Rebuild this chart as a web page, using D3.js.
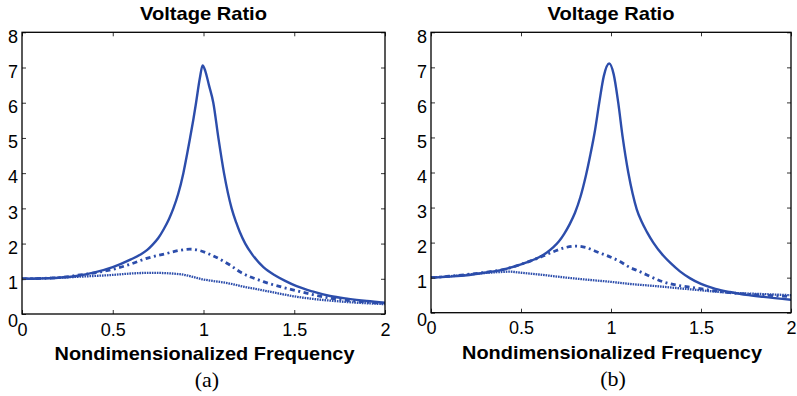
<!DOCTYPE html>
<html>
<head>
<meta charset="utf-8">
<script src="https://cdn.jsdelivr.net/npm/d3@7"></script>
<style>
  html, body { margin: 0; padding: 0; background: #fff; }
  svg { display: block; }
</style>
</head>
<body>
<svg id="chart" width="797" height="396"></svg>
<script>
// ---------- data ----------
const xTicks = [0, 0.5, 1, 1.5, 2];
const yTicks = [0, 1, 2, 3, 4, 5, 6, 7, 8];
const titleText = "Voltage Ratio";
const xLabelText = "Nondimensionalized Frequency";
const panelTags = ["(a)", "(b)"];

// panel (a)
const aSolidX = [0, 0.1, 0.2, 0.3, 0.4, 0.5, 0.6, 0.65, 0.69, 0.72, 0.75, 0.78, 0.81, 0.834, 0.86, 0.889, 0.91, 0.926, 0.945, 0.959, 0.98, 0.995, 1.01, 1.03, 1.054, 1.082, 1.113, 1.155, 1.18, 1.2, 1.23, 1.27, 1.33, 1.4, 1.45, 1.513, 1.6, 1.697, 1.8, 1.9, 2.0];
const aSolidY = [1.0, 1.01, 1.03, 1.08, 1.18, 1.33, 1.55, 1.68, 1.82, 1.97, 2.15, 2.40, 2.70, 3.0, 3.4, 4.0, 4.55, 5.0, 5.55, 6.0, 6.7, 7.06, 6.9, 6.5, 6.0, 5.0, 4.0, 3.0, 2.6, 2.33, 2.0, 1.68, 1.33, 1.08, 0.94, 0.79, 0.64, 0.51, 0.43, 0.37, 0.32];
const aDashDotX = [0, 0.1, 0.2, 0.32, 0.4, 0.5, 0.6, 0.687, 0.797, 0.87, 0.926, 0.98, 1.054, 1.146, 1.2, 1.33, 1.513, 1.697, 1.85, 2.0];
const aDashDotY = [1.0, 1.01, 1.03, 1.11, 1.17, 1.27, 1.42, 1.58, 1.72, 1.81, 1.84, 1.80, 1.65, 1.39, 1.2, 0.92, 0.66, 0.45, 0.36, 0.30];
const aDotX = [0, 0.2, 0.32, 0.5, 0.6, 0.714, 0.87, 1.0, 1.15, 1.2, 1.33, 1.513, 1.697, 1.85, 2.0];
const aDotY = [1.0, 1.03, 1.06, 1.11, 1.15, 1.17, 1.13, 0.98, 0.86, 0.80, 0.67, 0.49, 0.38, 0.32, 0.28];

// panel (b)
const bSolidX = [0, 0.1, 0.2, 0.272, 0.4, 0.5, 0.6, 0.644, 0.68, 0.71, 0.74, 0.77, 0.8, 0.83, 0.86, 0.885, 0.911, 0.935, 0.96, 0.99, 1.015, 1.04, 1.065, 1.096, 1.12, 1.143, 1.17, 1.2, 1.235, 1.29, 1.33, 1.383, 1.44, 1.5, 1.58, 1.66, 1.75, 1.846, 2.0];
const bSolidY = [1.0, 1.03, 1.07, 1.12, 1.23, 1.38, 1.58, 1.72, 1.87, 2.03, 2.25, 2.52, 2.85, 3.3, 3.9, 4.5, 5.2, 6.0, 6.75, 7.11, 6.8, 6.0, 5.0, 4.0, 3.4, 2.95, 2.6, 2.3, 2.0, 1.63, 1.42, 1.18, 0.98, 0.82, 0.68, 0.59, 0.51, 0.45, 0.37];
const bDashDotX = [0, 0.1, 0.2, 0.3, 0.4, 0.5, 0.6, 0.68, 0.74, 0.8, 0.86, 0.92, 1.05, 1.105, 1.143, 1.29, 1.476, 1.66, 1.85, 2.0];
const bDashDotY = [1.0, 1.04, 1.09, 1.15, 1.23, 1.38, 1.57, 1.74, 1.85, 1.90, 1.86, 1.74, 1.46, 1.29, 1.21, 0.88, 0.70, 0.57, 0.50, 0.46];
const bDotX = [0, 0.1, 0.2, 0.272, 0.35, 0.44, 0.5, 0.6, 0.735, 0.85, 1.0, 1.105, 1.2, 1.29, 1.476, 1.66, 1.85, 2.0];
const bDotY = [1.0, 1.04, 1.08, 1.12, 1.15, 1.17, 1.14, 1.09, 1.01, 0.95, 0.88, 0.82, 0.78, 0.74, 0.65, 0.57, 0.53, 0.50];

// ---------- drawing ----------
const zip = (xs, ys) => xs.map((x, i) => [x, ys[i]]);
const blue = "#2c4dab";
const sans = "'Liberation Sans', Arial, Helvetica, sans-serif";
const serif = "'Liberation Serif', 'Times New Roman', serif";

const panels = [
  { left: 22, right: 385, top: 32.3, bottom: 314, tag: panelTags[0], tagX: 207,
    series: [
      { d: zip(aSolidX, aSolidY), style: "solid" },
      { d: zip(aDashDotX, aDashDotY), style: "dashdot" },
      { d: zip(aDotX, aDotY), style: "dot" }
    ] },
  { left: 431, right: 791, top: 32.3, bottom: 312.7, tag: panelTags[1], tagX: 613,
    series: [
      { d: zip(bSolidX, bSolidY), style: "solid" },
      { d: zip(bDashDotX, bDashDotY), style: "dashdot" },
      { d: zip(bDotX, bDotY), style: "dot" }
    ] }
];

const svg = d3.select("#chart");
svg.append("rect").attr("width", 797).attr("height", 396).attr("fill", "#fff");

panels.forEach(p => {
  const x = d3.scaleLinear().domain([0, 2]).range([p.left, p.right]);
  const y = d3.scaleLinear().domain([0, 8]).range([p.bottom, p.top]);
  const g = svg.append("g");

  // lines
  const line = d3.line().x(d => x(d[0])).y(d => y(d[1])).curve(d3.curveMonotoneX);
  p.series.forEach(s => {
    const path = g.append("path").datum(s.d).attr("d", line)
      .attr("fill", "none").attr("stroke", blue);
    if (s.style === "solid") path.attr("stroke-width", 2.4);
    if (s.style === "dashdot") path.attr("stroke-width", 2.8).attr("stroke-dasharray", "5,3.5,2,3.5");
    if (s.style === "dot") path.attr("stroke-width", 2.3).attr("stroke-dasharray", "1.6,0.9");
  });

  // axes with inward ticks
  const axB = d3.axisBottom(x).tickValues(xTicks).tickSize(-4).tickPadding(9).tickFormat(d3.format("~g"));
  const axT = d3.axisTop(x).tickValues(xTicks).tickSize(-4).tickFormat("");
  const axL = d3.axisLeft(y).tickValues(yTicks).tickSize(-4).tickPadding(4).tickFormat(d3.format("~g"));
  const axR = d3.axisRight(y).tickValues(yTicks).tickSize(-4).tickFormat("");

  const gb = g.append("g").attr("transform", `translate(0,${p.bottom})`).call(axB);
  const gt = g.append("g").attr("transform", `translate(0,${p.top})`).call(axT);
  const gl = g.append("g").attr("transform", `translate(${p.left},0)`).call(axL);
  const gr = g.append("g").attr("transform", `translate(${p.right},0)`).call(axR);
  [gb, gt, gl, gr].forEach(a => {
    a.attr("font-family", null).attr("font-size", null);
    a.select(".domain").remove();
    a.selectAll(".tick line").attr("stroke", "#333").attr("stroke-width", 1);
    a.selectAll("text").style("font-family", sans)
      .style("font-size", "18px").attr("fill", "#000");
  });
  gl.selectAll("text").attr("dy", "0.65em").attr("y", 0)
    .attr("transform", "translate(0,-2)");
  gl.selectAll(".tick").filter(d => d === 0).select("text").attr("transform", "translate(0,1)");

  // box
  g.append("rect").attr("x", p.left).attr("y", p.top)
    .attr("width", p.right - p.left).attr("height", p.bottom - p.top)
    .attr("fill", "none").attr("stroke", "#000").attr("stroke-width", 1.3);

  const cx = (p.left + p.right) / 2;
  // title
  g.append("text").attr("x", cx).attr("y", 20).attr("text-anchor", "middle")
    .style("font-family", sans).attr("font-weight", "bold")
    .style("font-size", "18.5px").attr("textLength", 127).attr("lengthAdjust", "spacingAndGlyphs")
    .text(titleText);
  // x label
  g.append("text").attr("x", cx + 1).attr("y", p.bottom + 46).attr("text-anchor", "middle")
    .style("font-family", sans).attr("font-weight", "bold")
    .style("font-size", "19px").attr("textLength", 300).attr("lengthAdjust", "spacingAndGlyphs")
    .text(xLabelText);
  // tag
  g.append("text").attr("x", p.tagX).attr("y", p.bottom + 73).attr("text-anchor", "middle")
    .style("font-family", serif)
    .style("font-size", "22px").text(p.tag);
});
</script>
</body>
</html>
